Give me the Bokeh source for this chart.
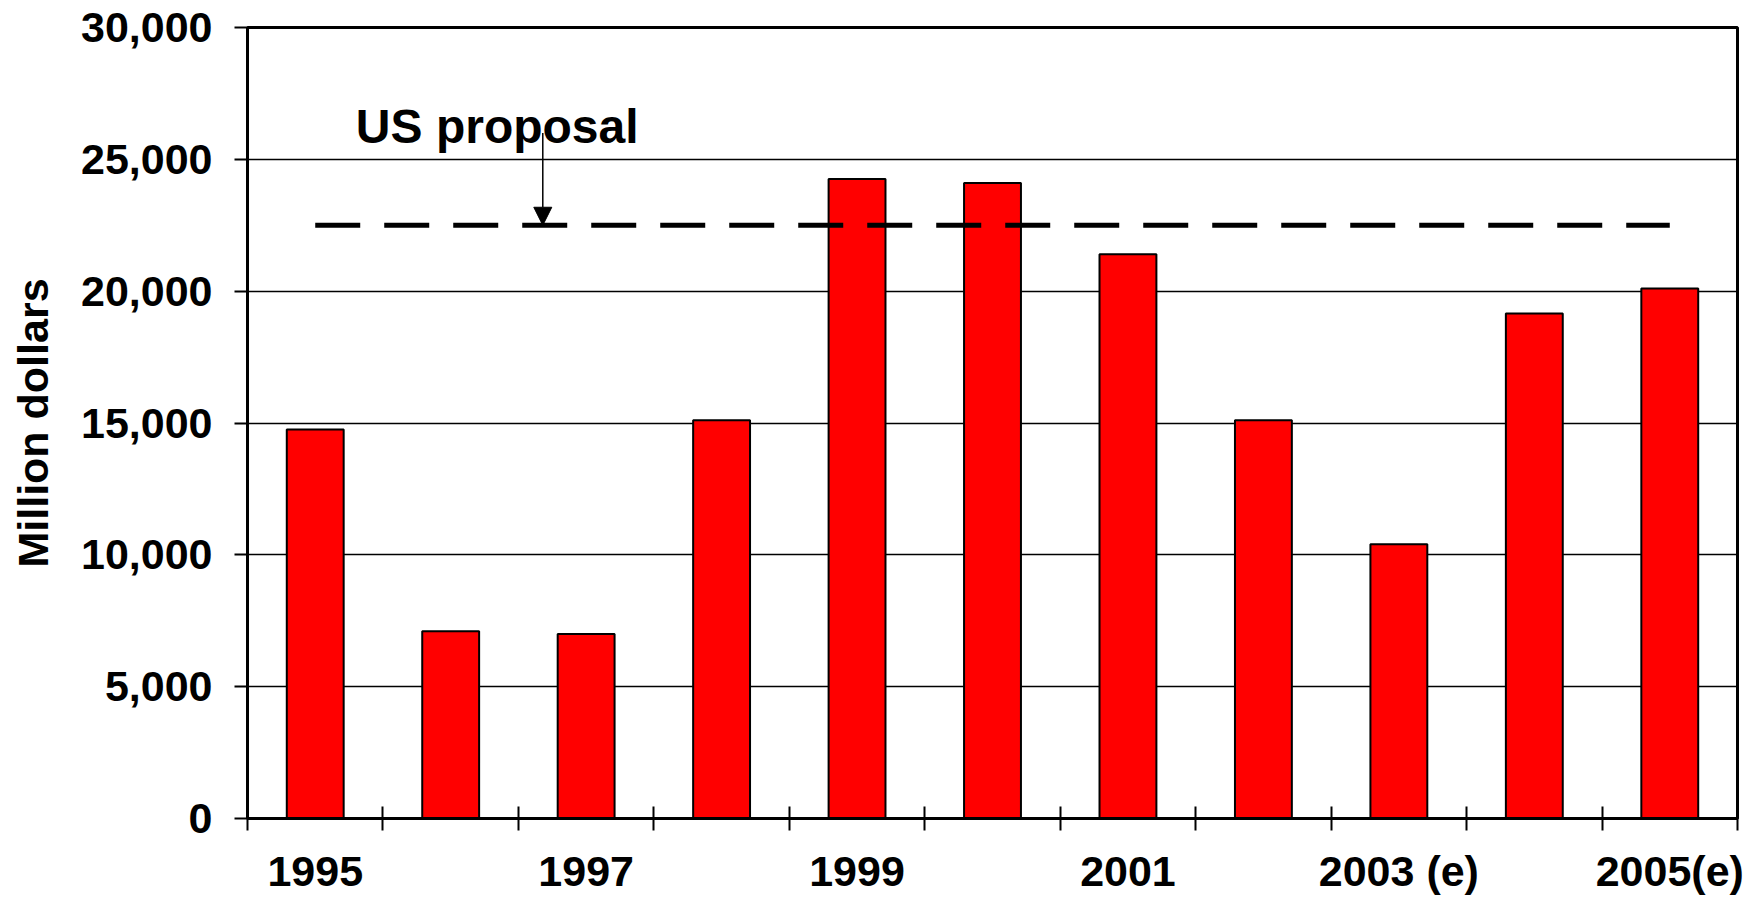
from bokeh.plotting import figure
from bokeh.models import Range1d, FixedTicker, NumeralTickFormatter, Label, Arrow, NormalHead
from bokeh.embed import file_html
from bokeh.resources import INLINE

# ---- data ----
years = ["1995", "1996", "1997", "1998", "1999", "2000", "2001", "2002",
         "2003 (e)", "2004 (e)", "2005(e)"]
values = [14750, 7100, 7000, 15100, 24250, 24100, 21400, 15100, 10400, 19150, 20100]
labeled_years = ["1995", "1997", "1999", "2001", "2003 (e)", "2005(e)"]
y_ticks = [0, 5000, 10000, 15000, 20000, 25000, 30000]
us_proposal = 22500
annotation_text = "US proposal"
y_title = "Million dollars"

# ---- styling / placement ----
FONT = "Liberation Sans"
n = len(years)
x_centers = [i + 0.5 for i in range(n)]
arrow_x = 2.18
arrow_top = 26000
label_x = 0.8
label_y = 26250

p = figure(width=1746, height=905,
           x_range=Range1d(0, n), y_range=Range1d(0, 30000),
           output_backend="svg", toolbar_location=None,
           min_border_left=247, min_border_right=9,
           min_border_top=27, min_border_bottom=87)
p.background_fill_color = "white"
p.border_fill_color = "white"
p.outline_line_color = "black"
p.outline_line_width = 3

p.xgrid.visible = False
p.ygrid.ticker = FixedTicker(ticks=y_ticks)
p.ygrid.grid_line_color = "black"
p.ygrid.grid_line_width = 1.5

# y axis
yax = p.yaxis[0]
yax.ticker = FixedTicker(ticks=y_ticks)
yax.formatter = NumeralTickFormatter(format="0,0")
yax.major_tick_out = 13
yax.major_tick_in = 0
yax.major_tick_line_width = 2
yax.minor_tick_line_color = None
yax.axis_line_width = 3
yax.major_label_text_font = FONT
yax.major_label_text_font_size = "43px"
yax.major_label_text_font_style = "bold"
yax.major_label_text_color = "black"
yax.major_label_standoff = 22
yax.axis_label = y_title
yax.axis_label_text_font = FONT
yax.axis_label_text_font_size = "43px"
yax.axis_label_text_font_style = "bold"
yax.axis_label_text_color = "black"
yax.axis_label_standoff = 21

# x axis
xax = p.xaxis[0]
label_pos = [x_centers[years.index(y)] for y in labeled_years]
xax.ticker = FixedTicker(ticks=label_pos, minor_ticks=list(range(n + 1)))
xax.major_label_overrides = {pos: lab for pos, lab in zip(label_pos, labeled_years)}
xax.major_tick_line_color = None
xax.major_tick_in = 0
xax.major_tick_out = 0
xax.minor_tick_in = 12
xax.minor_tick_out = 12
xax.minor_tick_line_width = 2
xax.minor_tick_line_color = "black"
xax.axis_line_width = 3
xax.major_label_text_font = FONT
xax.major_label_text_font_size = "43px"
xax.major_label_text_font_style = "bold"
xax.major_label_text_color = "black"
xax.major_label_standoff = 16

# bars
p.vbar(x=x_centers, top=values, width=0.42, bottom=0,
       fill_color="#ff0000", line_color="black", line_width=2)

# US proposal dashed line
p.segment(x0=[x_centers[0]], x1=[x_centers[-1]], y0=[us_proposal], y1=[us_proposal],
          line_color="black", line_width=5, line_dash="45 24", line_cap="butt")

# arrow and label
p.add_layout(Arrow(end=NormalHead(size=18, fill_color="black", line_color="black"),
                   x_start=arrow_x, y_start=arrow_top, x_end=arrow_x, y_end=us_proposal,
                   line_color="black", line_width=1.5))
p.add_layout(Label(x=label_x, y=label_y, text=annotation_text,
                   text_font=FONT, text_font_size="48px", text_font_style="bold",
                   text_color="black", text_baseline="alphabetic", text_align="left"))

open("out.html", "w").write(file_html(p, INLINE))
